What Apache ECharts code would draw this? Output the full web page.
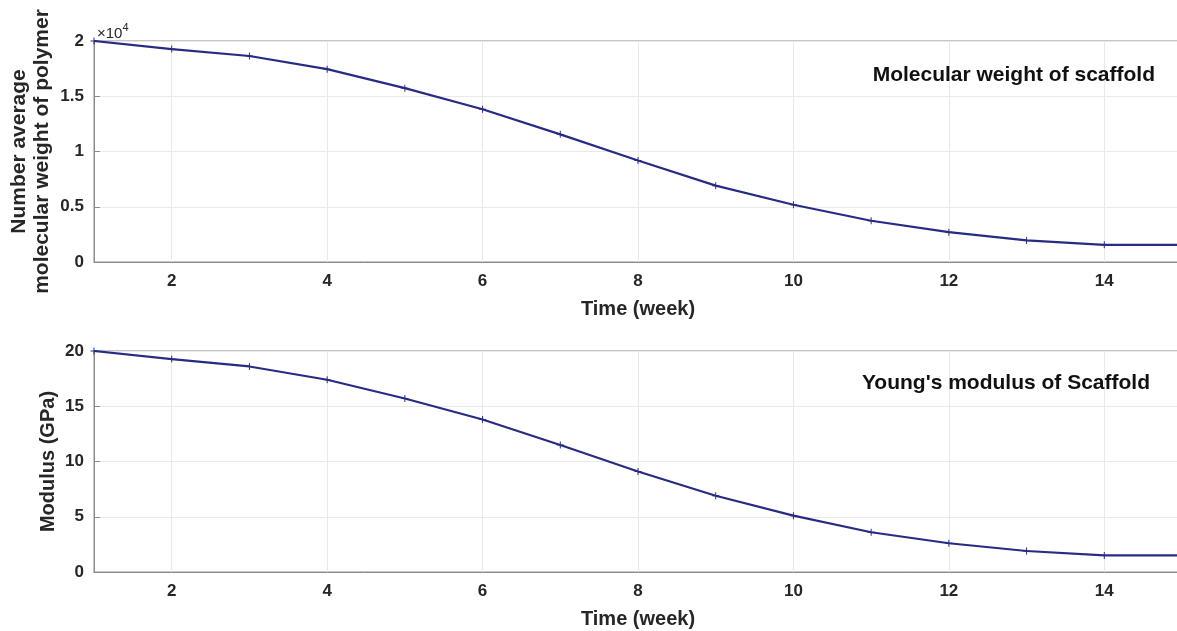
<!DOCTYPE html>
<html><head><meta charset="utf-8">
<script src="https://cdn.jsdelivr.net/npm/echarts@6/dist/echarts.min.js"></script>
<style>html,body{margin:0;padding:0;background:#fff}#c{width:1177px;height:631px}</style>
</head><body><div id="c"></div>
<script>
const weeks = [1,2,3,4,5,6,7,8,9,10,11,12,13,14,15];
const molWeight = [20000,19270,18640,17450,15730,13820,11550,9180,6910,5180,3730,2700,1950,1550,1550];
const modulus = [20.0,19.27,18.6,17.4,15.7,13.8,11.5,9.1,6.9,5.1,3.6,2.6,1.9,1.5,1.5];
const xTicks = [2,4,6,8,10,12,14];

const FONT = "'Liberation Sans', Arial, Helvetica, sans-serif";
const TXT = '#262626';
const AX = '#8c8c8c';
const GRIDC = '#e9e9e9';
const LINE = '#262b84';
const plus = 'path://M-0.14,-1H0.14V-0.14H1V0.14H0.14V1H-0.14V0.14H-1V-0.14H-0.14Z';

function xAxis(gi){
  return {
    type:'value', gridIndex:gi, min:1, max:15,
    name:'Time (week)', nameLocation:'middle', nameGap:37, nameMoveOverlap:false,
    nameTextStyle:{fontFamily:FONT,fontWeight:'bold',fontSize:20,color:TXT},
    axisLine:{show:true,lineStyle:{color:AX,width:1}},
    axisTick:{show:true,inside:true,length:6,customValues:xTicks,lineStyle:{color:AX}},
    axisLabel:{customValues:xTicks,fontFamily:FONT,fontWeight:'bold',fontSize:17,color:TXT,margin:11},
    splitLine:{show:false}
  };
}
function yAxis(gi,max,interval,name,gap,size,fmt){
  return {
    type:'value', gridIndex:gi, min:0, max:max, interval:interval,
    name:name, nameLocation:'middle', nameGap:gap, nameRotate:90, nameMoveOverlap:false,
    nameTextStyle:{fontFamily:FONT,fontWeight:'bold',fontSize:size,color:TXT,lineHeight:size+2},
    axisLine:{show:true,lineStyle:{color:AX,width:1}},
    axisTick:{show:true,inside:true,length:6,lineStyle:{color:AX}},
    axisLabel:{fontFamily:FONT,fontWeight:'bold',fontSize:17,color:TXT,margin:10,formatter:fmt},
    splitLine:{show:true,lineStyle:{color:GRIDC,width:1}}
  };
}
function series(xi,data){
  return {
    type:'line', xAxisIndex:xi, yAxisIndex:xi,
    data:weeks.map((w,i)=>[w,data[i]]),
    lineStyle:{color:LINE,width:2.2}, itemStyle:{color:LINE},
    symbol:plus, symbolSize:7, showSymbol:true, animation:false, silent:true, z:3,
    markLine:{
      silent:true, symbol:['none','none'], label:{show:false}, animation:false,
      lineStyle:{color:GRIDC,width:1,type:'solid'}, z:1,
      data:xTicks.map(v=>({xAxis:v}))
    }
  };
}
const chart = echarts.init(document.getElementById('c'),null,{renderer:'canvas'});
chart.setOption({
  animation:false,
  backgroundColor:'#fff',
  title:[
    {text:'Molecular weight of scaffold', right:17, top:60, textStyle:{fontFamily:FONT,fontWeight:'bold',fontSize:21,color:'#111'}},
    {text:"Young's modulus of Scaffold", right:22, top:368, textStyle:{fontFamily:FONT,fontWeight:'bold',fontSize:21,color:'#111'}}
  ],
  grid:[
    {left:94, top:41, width:1088, height:221, show:true, borderColor:AX, borderWidth:1, backgroundColor:'transparent', outerBoundsMode:'none', containLabel:false},
    {left:94, top:351, width:1088, height:221, show:true, borderColor:AX, borderWidth:1, backgroundColor:'transparent', outerBoundsMode:'none', containLabel:false}
  ],
  xAxis:[xAxis(0), xAxis(1)],
  yAxis:[
    yAxis(0,20000,5000,'Number average\nmolecular weight of polymer',40,21,v=>String(v/10000)),
    yAxis(1,20,5,'Modulus (GPa)',35,20,v=>String(v))
  ],
  graphic:[{
    type:'text', left:97, top:22,
    style:{text:'{a|×10}{b|4}', rich:{
      a:{fontFamily:FONT,fontSize:15,fill:TXT,verticalAlign:'bottom'},
      b:{fontFamily:FONT,fontSize:11,fill:TXT,verticalAlign:'top',padding:[0,0,8,0]}
    }}
  }],
  series:[series(0,molWeight), series(1,modulus)]
});
</script></body></html>
